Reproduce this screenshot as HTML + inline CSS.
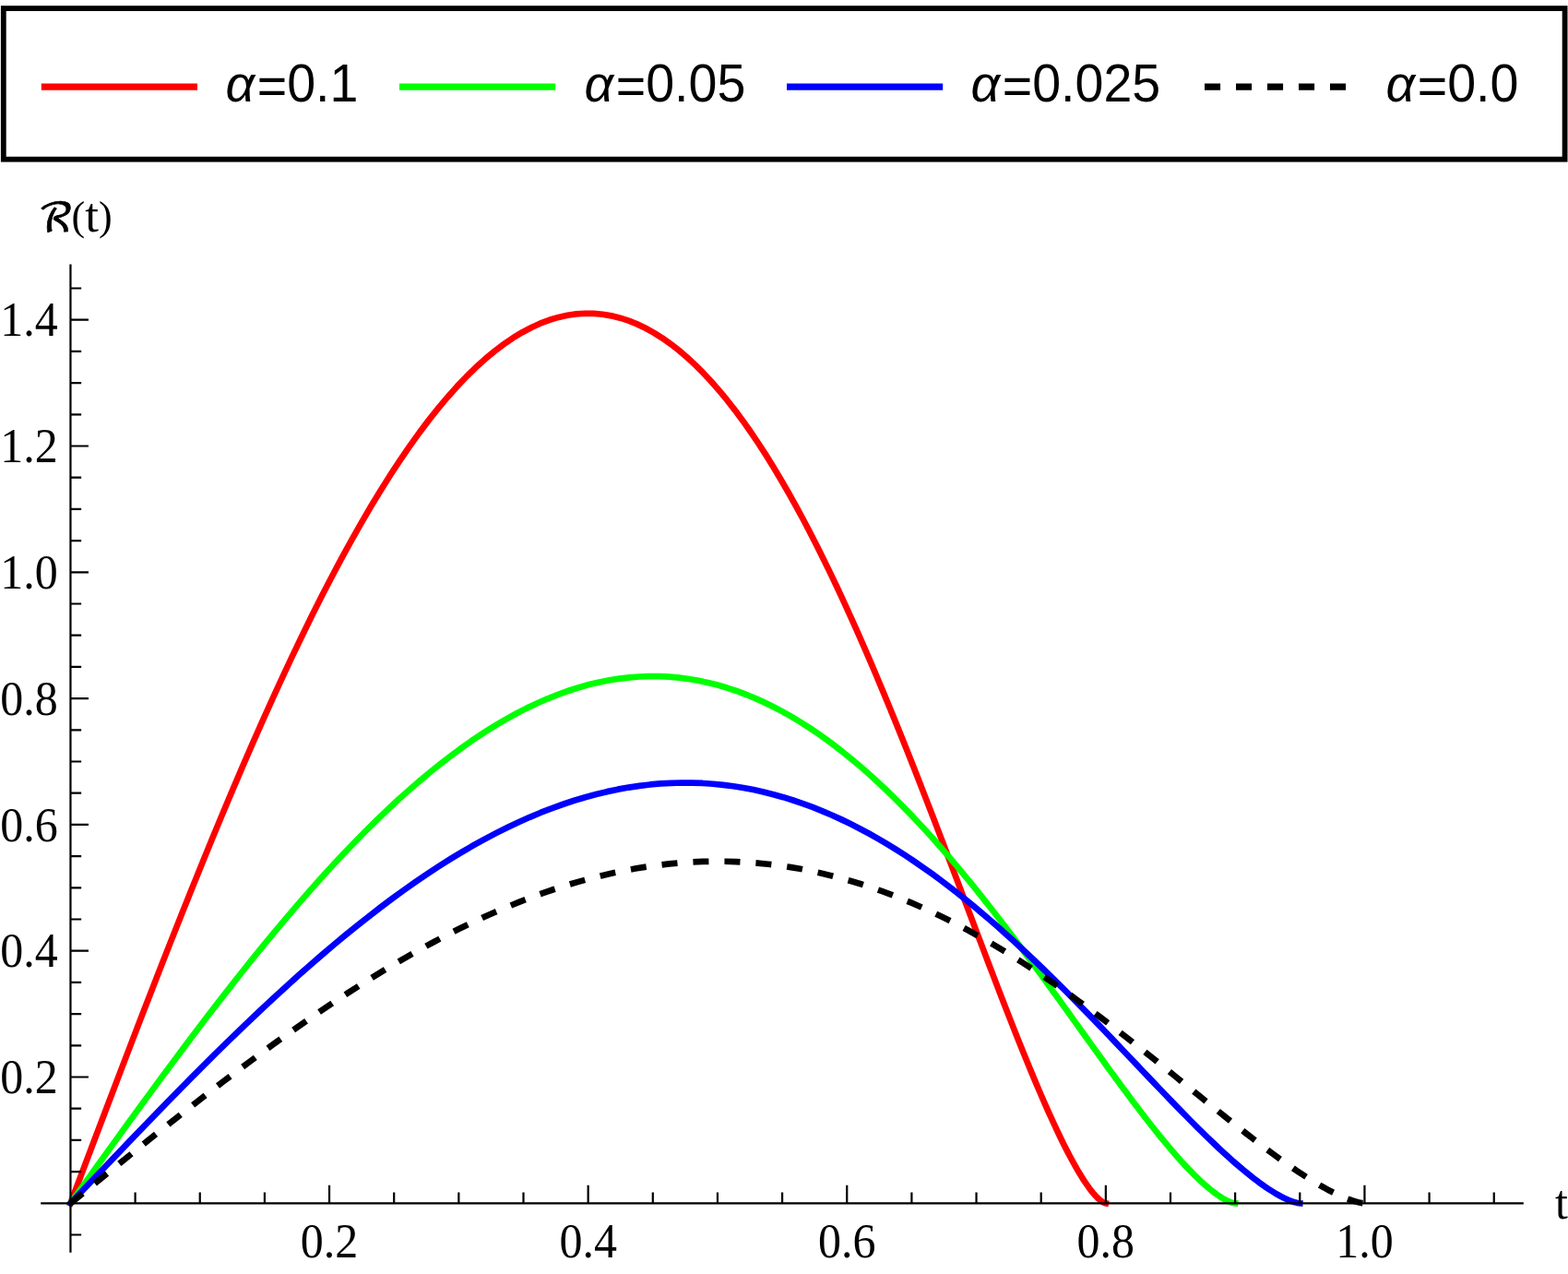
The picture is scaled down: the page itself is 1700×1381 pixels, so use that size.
<!DOCTYPE html>
<html lang="en"><head><meta charset="utf-8"><title>R(t) plot</title>
<style>html,body{margin:0;padding:0;background:#fff;overflow:hidden}svg{display:block}.tk{font-family:"Liberation Serif","DejaVu Serif",serif;font-size:50px;fill:#000}.lg{font-family:"Liberation Sans","DejaVu Sans",sans-serif;font-size:55.6px;fill:#000}.sc{font-family:"DejaVu Math TeX Gyre","DejaVu Serif","DejaVu Sans",serif}</style></head><body>
<svg width="1700" height="1381" viewBox="0 0 1700 1381">
<rect x="0" y="0" width="1700" height="1381" fill="#ffffff"/>
<g id="legend">
<rect x="3.8" y="9.1" width="1692.8" height="163.6" fill="none" stroke="#000" stroke-width="5.8"/>
<line x1="44.8" y1="94.2" x2="214.0" y2="94.2" stroke="#ff0000" stroke-width="7.2"/>
<text class="lg" transform="translate(244.4 109.7) scale(1 1.015)"><tspan font-style="italic">α</tspan><tspan dx="2.6" dy="3.4">=</tspan><tspan dy="-3.4">0.1</tspan></text>
<line x1="433.0" y1="94.2" x2="602.2" y2="94.2" stroke="#00ff00" stroke-width="7.2"/>
<text class="lg" transform="translate(633.4 109.7) scale(1 1.015)"><tspan font-style="italic">α</tspan><tspan dx="2.6" dy="3.4">=</tspan><tspan dy="-3.4">0.05</tspan></text>
<line x1="853.0" y1="94.2" x2="1022.2" y2="94.2" stroke="#0000ff" stroke-width="7.2"/>
<text class="lg" transform="translate(1052.4 109.7) scale(1 1.015)"><tspan font-style="italic">α</tspan><tspan dx="2.6" dy="3.4">=</tspan><tspan dy="-3.4">0.025</tspan></text>
<line x1="1306.0" y1="94.2" x2="1475.2" y2="94.2" stroke="#000000" stroke-width="7.2" stroke-dasharray="17.1 16.9"/>
<text class="lg" transform="translate(1502.4 109.7) scale(1 1.015)"><tspan font-style="italic">α</tspan><tspan dx="2.6" dy="3.4">=</tspan><tspan dy="-3.4">0.0</tspan></text>
</g>
<g id="curves" fill="none" stroke-linejoin="round">
<path d="M76.45 1304.30 L87.47 1275.15 L98.49 1246.02 L109.50 1216.95 L120.52 1187.96 L131.52 1159.09 L142.53 1130.35 L153.52 1101.79 L164.51 1073.42 L175.49 1045.26 L186.46 1017.36 L197.43 989.73 L208.37 962.41 L219.31 935.41 L230.23 908.76 L241.14 882.49 L252.03 856.62 L262.91 831.18 L273.76 806.18 L284.60 781.65 L295.42 757.62 L306.22 734.10 L316.99 711.12 L327.74 688.69 L338.47 666.84 L349.17 645.58 L359.85 624.93 L370.49 604.91 L381.11 585.53 L391.71 566.81 L402.27 548.77 L412.79 531.41 L423.29 514.76 L433.75 498.81 L444.18 483.60 L454.58 469.11 L464.93 455.37 L475.25 442.38 L485.53 430.15 L495.77 418.68 L505.97 407.99 L516.13 398.06 L526.25 388.92 L536.32 380.56 L546.35 372.98 L556.34 366.18 L566.28 360.17 L576.17 354.94 L586.01 350.48 L595.80 346.81 L605.55 343.90 L615.24 341.76 L624.88 340.39 L634.47 339.76 L644.00 339.89 L653.48 340.75 L662.90 342.34 L672.27 344.65 L681.58 347.66 L690.83 351.37 L700.02 355.77 L709.15 360.83 L718.22 366.55 L727.23 372.90 L736.18 379.89 L745.06 387.48 L753.88 395.66 L762.63 404.42 L771.32 413.73 L779.94 423.59 L788.49 433.96 L796.98 444.83 L805.39 456.18 L813.73 467.99 L822.01 480.25 L830.21 492.91 L838.34 505.98 L846.39 519.42 L854.37 533.21 L862.28 547.34 L870.11 561.77 L877.86 576.49 L885.54 591.47 L893.13 606.69 L900.65 622.14 L908.09 637.77 L915.45 653.59 L922.73 669.55 L929.93 685.64 L937.04 701.83 L944.08 718.11 L951.03 734.45 L957.89 750.84 L964.67 767.24 L971.36 783.63 L977.97 800.01 L984.49 816.34 L990.92 832.60 L997.27 848.78 L1003.52 864.86 L1009.69 880.81 L1015.77 896.63 L1021.75 912.29 L1027.65 927.77 L1033.45 943.06 L1039.16 958.14 L1044.78 973.00 L1050.31 987.62 L1055.74 1001.99 L1061.08 1016.09 L1066.32 1029.91 L1071.47 1043.44 L1076.52 1056.67 L1081.47 1069.59 L1086.33 1082.19 L1091.09 1094.45 L1095.75 1106.37 L1100.31 1117.94 L1104.78 1129.16 L1109.15 1140.02 L1113.41 1150.52 L1117.58 1160.64 L1121.65 1170.39 L1125.61 1179.76 L1129.48 1188.76 L1133.24 1197.37 L1136.90 1205.61 L1140.46 1213.47 L1143.92 1220.95 L1147.27 1228.05 L1150.52 1234.78 L1153.67 1241.14 L1156.71 1247.13 L1159.65 1252.76 L1162.48 1258.04 L1165.21 1262.97 L1167.84 1267.56 L1170.36 1271.81 L1172.77 1275.74 L1175.08 1279.36 L1177.28 1282.67 L1179.38 1285.68 L1181.37 1288.41 L1183.25 1290.87 L1185.03 1293.07 L1186.70 1295.02 L1188.27 1296.73 L1189.72 1298.23 L1191.07 1299.51 L1192.31 1300.60 L1193.45 1301.52 L1194.47 1302.27 L1195.39 1302.87 L1196.20 1303.34 L1196.90 1303.70 L1197.50 1303.95 L1197.98 1304.12 L1198.85 1304.30" stroke="#ff0000" stroke-width="6.7" stroke-linecap="square"/>
<path d="M76.45 1304.30 L88.85 1287.04 L101.24 1269.79 L113.63 1252.57 L126.02 1235.41 L138.41 1218.31 L150.79 1201.29 L163.16 1184.38 L175.52 1167.57 L187.87 1150.90 L200.22 1134.38 L212.55 1118.02 L224.86 1101.84 L237.17 1085.85 L249.46 1070.07 L261.73 1054.51 L273.98 1039.19 L286.21 1024.12 L298.43 1009.32 L310.62 994.80 L322.79 980.56 L334.94 966.64 L347.06 953.03 L359.15 939.75 L371.22 926.80 L383.26 914.21 L395.27 901.99 L407.25 890.13 L419.20 878.65 L431.11 867.57 L442.99 856.88 L454.84 846.61 L466.65 836.74 L478.42 827.30 L490.15 818.29 L501.84 809.71 L513.49 801.58 L525.10 793.88 L536.67 786.64 L548.19 779.85 L559.66 773.52 L571.09 767.64 L582.48 762.23 L593.81 757.27 L605.09 752.79 L616.32 748.76 L627.50 745.20 L638.63 742.10 L649.70 739.46 L660.72 737.29 L671.68 735.57 L682.59 734.30 L693.43 733.49 L704.22 733.12 L714.94 733.19 L725.61 733.70 L736.21 734.64 L746.75 736.01 L757.22 737.79 L767.63 739.99 L777.97 742.59 L788.24 745.59 L798.45 748.98 L808.58 752.74 L818.65 756.88 L828.64 761.37 L838.56 766.22 L848.41 771.40 L858.18 776.92 L867.88 782.75 L877.50 788.90 L887.04 795.33 L896.51 802.06 L905.89 809.05 L915.20 816.31 L924.43 823.81 L933.57 831.55 L942.63 839.50 L951.61 847.67 L960.51 856.04 L969.31 864.58 L978.04 873.30 L986.67 882.17 L995.22 891.19 L1003.68 900.33 L1012.05 909.59 L1020.33 918.96 L1028.52 928.41 L1036.61 937.94 L1044.62 947.53 L1052.53 957.17 L1060.35 966.85 L1068.07 976.55 L1075.70 986.26 L1083.23 995.97 L1090.66 1005.66 L1098.00 1015.33 L1105.23 1024.97 L1112.37 1034.55 L1119.41 1044.07 L1126.35 1053.52 L1133.18 1062.88 L1139.92 1072.16 L1146.55 1081.32 L1153.08 1090.38 L1159.50 1099.31 L1165.82 1108.11 L1172.04 1116.77 L1178.15 1125.28 L1184.15 1133.63 L1190.05 1141.81 L1195.84 1149.83 L1201.52 1157.66 L1207.10 1165.31 L1212.56 1172.77 L1217.92 1180.03 L1223.16 1187.09 L1228.30 1193.94 L1233.32 1200.59 L1238.23 1207.02 L1243.03 1213.23 L1247.72 1219.23 L1252.30 1225.00 L1256.76 1230.55 L1261.10 1235.88 L1265.34 1240.98 L1269.46 1245.86 L1273.46 1250.51 L1277.35 1254.94 L1281.12 1259.14 L1284.78 1263.13 L1288.32 1266.89 L1291.74 1270.44 L1295.05 1273.78 L1298.24 1276.91 L1301.31 1279.82 L1304.26 1282.54 L1307.10 1285.06 L1309.81 1287.39 L1312.41 1289.53 L1314.89 1291.49 L1317.25 1293.28 L1319.49 1294.89 L1321.60 1296.35 L1323.60 1297.65 L1325.48 1298.80 L1327.24 1299.82 L1328.88 1300.70 L1330.40 1301.46 L1331.79 1302.11 L1333.07 1302.65 L1334.22 1303.10 L1335.26 1303.45 L1336.17 1303.73 L1336.96 1303.94 L1337.63 1304.09 L1338.18 1304.19 L1339.15 1304.30" stroke="#00ff00" stroke-width="6.7" stroke-linecap="square"/>
<path d="M76.45 1304.30 L89.54 1290.52 L102.62 1276.76 L115.70 1263.02 L128.78 1249.32 L141.85 1235.68 L154.92 1222.10 L167.97 1208.60 L181.02 1195.19 L194.06 1181.89 L207.09 1168.71 L220.11 1155.65 L233.11 1142.74 L246.10 1129.98 L259.07 1117.39 L272.02 1104.97 L284.95 1092.75 L297.87 1080.72 L310.76 1068.91 L323.63 1057.32 L336.48 1045.96 L349.30 1034.85 L362.09 1023.99 L374.86 1013.39 L387.60 1003.06 L400.31 993.02 L412.98 983.26 L425.63 973.80 L438.24 964.64 L450.82 955.79 L463.36 947.27 L475.86 939.07 L488.32 931.20 L500.75 923.66 L513.13 916.47 L525.47 909.63 L537.77 903.13 L550.03 896.99 L562.23 891.21 L574.40 885.79 L586.51 880.74 L598.57 876.05 L610.59 871.73 L622.55 867.78 L634.46 864.20 L646.32 860.99 L658.12 858.14 L669.86 855.67 L681.55 853.57 L693.18 851.83 L704.75 850.46 L716.26 849.45 L727.71 848.80 L739.09 848.50 L750.42 848.56 L761.67 848.97 L772.86 849.72 L783.99 850.81 L795.04 852.23 L806.03 853.99 L816.94 856.06 L827.79 858.46 L838.56 861.16 L849.26 864.16 L859.88 867.46 L870.43 871.05 L880.90 874.92 L891.29 879.05 L901.61 883.46 L911.85 888.11 L922.00 893.01 L932.08 898.15 L942.07 903.52 L951.98 909.10 L961.80 914.89 L971.54 920.87 L981.19 927.05 L990.75 933.40 L1000.23 939.92 L1009.62 946.59 L1018.92 953.41 L1028.12 960.37 L1037.24 967.45 L1046.26 974.64 L1055.19 981.94 L1064.03 989.33 L1072.77 996.80 L1081.41 1004.34 L1089.96 1011.95 L1098.41 1019.60 L1106.76 1027.29 L1115.01 1035.02 L1123.16 1042.76 L1131.21 1050.51 L1139.16 1058.25 L1147.01 1065.99 L1154.75 1073.71 L1162.39 1081.39 L1169.92 1089.04 L1177.35 1096.64 L1184.67 1104.18 L1191.89 1111.65 L1199.00 1119.05 L1206.00 1126.37 L1212.89 1133.59 L1219.67 1140.72 L1226.35 1147.74 L1232.91 1154.65 L1239.36 1161.44 L1245.69 1168.10 L1251.92 1174.64 L1258.03 1181.03 L1264.03 1187.28 L1269.91 1193.39 L1275.68 1199.34 L1281.33 1205.13 L1286.87 1210.77 L1292.29 1216.24 L1297.59 1221.54 L1302.78 1226.67 L1307.84 1231.63 L1312.79 1236.41 L1317.62 1241.02 L1322.33 1245.45 L1326.92 1249.70 L1331.39 1253.77 L1335.73 1257.66 L1339.96 1261.38 L1344.07 1264.91 L1348.05 1268.27 L1351.91 1271.45 L1355.64 1274.45 L1359.26 1277.28 L1362.75 1279.95 L1366.11 1282.44 L1369.36 1284.77 L1372.47 1286.94 L1375.47 1288.95 L1378.33 1290.81 L1381.07 1292.51 L1383.69 1294.08 L1386.18 1295.50 L1388.54 1296.79 L1390.78 1297.95 L1392.89 1298.99 L1394.87 1299.91 L1396.73 1300.72 L1398.46 1301.43 L1400.06 1302.04 L1401.54 1302.55 L1402.88 1302.98 L1404.10 1303.34 L1405.19 1303.62 L1406.15 1303.85 L1406.99 1304.01 L1407.69 1304.13 L1408.27 1304.22 L1409.30 1304.30" stroke="#0000ff" stroke-width="6.7" stroke-linecap="square"/>
<path d="M76.45 1304.30 L90.22 1293.10 L104.00 1281.91 L117.77 1270.74 L131.53 1259.60 L145.29 1248.51 L159.05 1237.47 L172.79 1226.49 L186.53 1215.59 L200.25 1204.78 L213.97 1194.06 L227.67 1183.44 L241.35 1172.94 L255.03 1162.57 L268.68 1152.33 L282.31 1142.24 L295.93 1132.30 L309.52 1122.53 L323.09 1112.92 L336.64 1103.50 L350.16 1094.27 L363.66 1085.23 L377.13 1076.40 L390.56 1067.78 L403.97 1059.39 L417.35 1051.22 L430.70 1043.28 L444.01 1035.59 L457.28 1028.15 L470.52 1020.96 L483.72 1014.02 L496.88 1007.36 L510.00 1000.96 L523.08 994.83 L536.12 988.98 L549.11 983.42 L562.05 978.14 L574.95 973.15 L587.80 968.45 L600.60 964.04 L613.35 959.94 L626.05 956.12 L638.70 952.61 L651.29 949.40 L663.83 946.49 L676.31 943.87 L688.73 941.56 L701.10 939.55 L713.40 937.84 L725.64 936.43 L737.82 935.31 L749.94 934.49 L761.99 933.96 L773.97 933.72 L785.89 933.77 L797.74 934.10 L809.52 934.71 L821.22 935.60 L832.86 936.76 L844.43 938.18 L855.92 939.87 L867.33 941.82 L878.67 944.01 L889.93 946.46 L901.11 949.14 L912.22 952.06 L923.24 955.20 L934.18 958.56 L945.04 962.14 L955.81 965.93 L966.50 969.91 L977.11 974.09 L987.63 978.45 L998.06 982.99 L1008.40 987.70 L1018.65 992.56 L1028.81 997.58 L1038.88 1002.75 L1048.85 1008.05 L1058.73 1013.47 L1068.52 1019.02 L1078.21 1024.67 L1087.81 1030.43 L1097.31 1036.28 L1106.70 1042.21 L1116.00 1048.22 L1125.20 1054.29 L1134.30 1060.43 L1143.30 1066.61 L1152.19 1072.83 L1160.98 1079.09 L1169.67 1085.36 L1178.25 1091.66 L1186.72 1097.96 L1195.09 1104.26 L1203.35 1110.55 L1211.50 1116.82 L1219.54 1123.07 L1227.47 1129.29 L1235.29 1135.47 L1243.00 1141.60 L1250.60 1147.67 L1258.08 1153.69 L1265.45 1159.64 L1272.70 1165.51 L1279.84 1171.31 L1286.87 1177.01 L1293.77 1182.63 L1300.56 1188.15 L1307.23 1193.57 L1313.79 1198.88 L1320.22 1204.08 L1326.53 1209.16 L1332.73 1214.12 L1338.80 1218.96 L1344.75 1223.67 L1350.57 1228.25 L1356.28 1232.70 L1361.86 1237.01 L1367.32 1241.18 L1372.65 1245.22 L1377.86 1249.11 L1382.94 1252.85 L1387.90 1256.45 L1392.73 1259.91 L1397.44 1263.22 L1402.01 1266.38 L1406.46 1269.40 L1410.78 1272.28 L1414.97 1275.00 L1419.04 1277.59 L1422.97 1280.03 L1426.77 1282.33 L1430.45 1284.50 L1433.99 1286.53 L1437.40 1288.42 L1440.68 1290.18 L1443.83 1291.82 L1446.85 1293.33 L1449.74 1294.72 L1452.49 1295.99 L1455.11 1297.15 L1457.60 1298.20 L1459.96 1299.14 L1462.18 1299.99 L1464.26 1300.73 L1466.22 1301.39 L1468.04 1301.97 L1469.73 1302.46 L1471.28 1302.88 L1472.69 1303.23 L1473.98 1303.52 L1475.13 1303.75 L1476.14 1303.93 L1477.02 1304.07 L1477.76 1304.17 L1478.37 1304.23 L1478.84 1304.27 L1479.45 1304.30" stroke="#000000" stroke-width="6.7" stroke-dasharray="17 17.02" stroke-linecap="butt"/>
</g>
<g id="axes" stroke="#000" stroke-width="2.2" fill="none">
<line x1="44.2" y1="1304.3" x2="1651.8" y2="1304.3"/>
<line x1="76.45" y1="286.5" x2="76.45" y2="1357.8"/>
<path d="M146.60 1304.3 v-11.7 M216.75 1304.3 v-11.7 M286.90 1304.3 v-11.7 M357.05 1304.3 v-19.5 M427.20 1304.3 v-11.7 M497.35 1304.3 v-11.7 M567.50 1304.3 v-11.7 M637.65 1304.3 v-19.5 M707.80 1304.3 v-11.7 M777.95 1304.3 v-11.7 M848.10 1304.3 v-11.7 M918.25 1304.3 v-19.5 M988.40 1304.3 v-11.7 M1058.55 1304.3 v-11.7 M1128.70 1304.3 v-11.7 M1198.85 1304.3 v-19.5 M1269.00 1304.3 v-11.7 M1339.15 1304.3 v-11.7 M1409.30 1304.3 v-11.7 M1479.45 1304.3 v-19.5 M1549.60 1304.3 v-11.7 M1619.75 1304.3 v-11.7 M76.45 1338.50 h11.7 M76.45 1270.10 h11.7 M76.45 1235.90 h11.7 M76.45 1201.70 h11.7 M76.45 1167.50 h19.5 M76.45 1133.30 h11.7 M76.45 1099.10 h11.7 M76.45 1064.90 h11.7 M76.45 1030.70 h19.5 M76.45 996.50 h11.7 M76.45 962.30 h11.7 M76.45 928.10 h11.7 M76.45 893.90 h19.5 M76.45 859.70 h11.7 M76.45 825.50 h11.7 M76.45 791.30 h11.7 M76.45 757.10 h19.5 M76.45 722.90 h11.7 M76.45 688.70 h11.7 M76.45 654.50 h11.7 M76.45 620.30 h19.5 M76.45 586.10 h11.7 M76.45 551.90 h11.7 M76.45 517.70 h11.7 M76.45 483.50 h19.5 M76.45 449.30 h11.7 M76.45 415.10 h11.7 M76.45 380.90 h11.7 M76.45 346.70 h19.5 M76.45 312.50 h11.7"/>
</g>
<g id="labels" class="tk">
<text transform="translate(357.05 1363.3) scale(1 1.065)" text-anchor="middle">0.2</text>
<text transform="translate(637.65 1363.3) scale(1 1.065)" text-anchor="middle">0.4</text>
<text transform="translate(918.25 1363.3) scale(1 1.065)" text-anchor="middle">0.6</text>
<text transform="translate(1198.85 1363.3) scale(1 1.065)" text-anchor="middle">0.8</text>
<text transform="translate(1479.45 1363.3) scale(1 1.065)" text-anchor="middle">1.0</text>
<text transform="translate(62.7 1185.10) scale(1 1.065)" text-anchor="end">0.2</text>
<text transform="translate(62.7 1048.30) scale(1 1.065)" text-anchor="end">0.4</text>
<text transform="translate(62.7 911.50) scale(1 1.065)" text-anchor="end">0.6</text>
<text transform="translate(62.7 774.70) scale(1 1.065)" text-anchor="end">0.8</text>
<text transform="translate(62.7 637.90) scale(1 1.065)" text-anchor="end">1.0</text>
<text transform="translate(62.7 501.10) scale(1 1.065)" text-anchor="end">1.2</text>
<text transform="translate(62.7 364.30) scale(1 1.065)" text-anchor="end">1.4</text>
<text transform="translate(1686 1321.3) scale(1 1.065)">t</text>
<text class="sc" transform="translate(41.2 250.6) scale(1.07 1)" font-size="43" stroke="#000" stroke-width="0.7" stroke-linejoin="round">ℛ</text>
<text x="77.6" y="250.6"><tspan font-size="44" dy="-1.5">(</tspan><tspan font-size="53" dy="1.5">t</tspan><tspan font-size="44" dy="-1.5">)</tspan></text>
</g>
</svg></body></html>
